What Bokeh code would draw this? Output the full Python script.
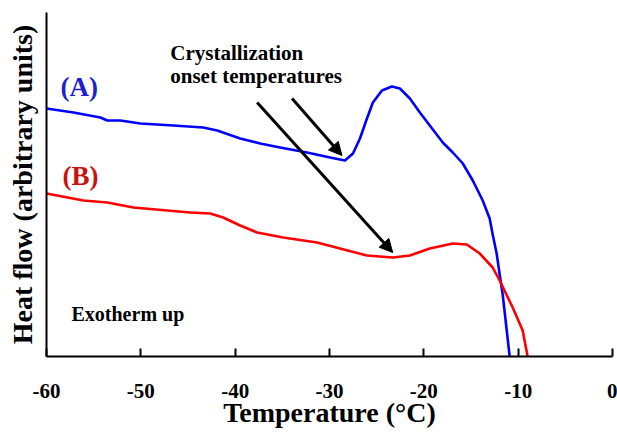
from bokeh.plotting import figure
from bokeh.models import Range1d, Label, Arrow, NormalHead, FixedTicker
from bokeh.embed import file_html
from bokeh.resources import INLINE

# Curve (A) - blue
temp_a = [-60, -57.14, -54.29, -53.55, -52.17, -50.05, -46.56, -43.39, -41.90, -39.47,
          -37.35, -35.24, -32.38, -29.95, -28.36, -27.51, -26.77, -26.03, -25.40, -24.44,
          -23.39, -22.54, -21.48, -20.42, -19.37, -17.99, -16.93, -15.87, -14.81, -13.76,
          -13.02, -12.70, -12.28, -11.96, -11.64, -10.90]
flow_a = [248, 244, 239, 236, 236, 233, 231, 229, 226, 218,
          213, 209, 204, 199, 196, 203, 218, 238, 254, 266,
          270, 268, 258, 244, 231, 214, 204, 193, 176, 156,
          138, 122, 103, 82, 62, 0]

# Curve (B) - red
temp_b = [-60, -56.08, -53.55, -50.79, -47.20, -44.76, -42.65, -41.27, -39.47, -37.67,
          -34.92, -31.32, -28.89, -26.03, -23.28, -21.48, -19.37, -16.93, -15.45, -14.07,
          -12.70, -11.96, -10.58, -9.52, -9.0]
flow_b = [163, 156, 154, 149, 146, 144, 143, 139, 131, 124,
          119, 114, 108, 101, 99, 101, 108, 113, 112, 103,
          89, 76, 49, 26, 0]

x_ticks = [-60, -50, -40, -30, -20, -10, 0]
x_tick_labels = ["-60", "-50", "-40", "-30", "-20", "-10", "0"]

# annotation arrows (start T, start y, end T, end y)
arrow_short = [-33.97, 258, -28.68, 201]
arrow_long = [-37.67, 254, -23.3, 104]

FONT = "Liberation Serif"

p = figure(width=617, height=434, output_backend="svg", toolbar_location=None,
           x_range=Range1d(-60, 0), y_range=Range1d(0, 344),
           min_border_left=46, min_border_right=5, min_border_top=12, min_border_bottom=78)
p.outline_line_color = None
p.xgrid.visible = False
p.ygrid.visible = False
p.background_fill_color = "white"
p.border_fill_color = "white"

p.line(temp_a, flow_a, line_color="#0000ff", line_width=2.6, line_join="round")
p.line(temp_b, flow_b, line_color="#ff0000", line_width=2.6, line_join="round")

for a in (arrow_short, arrow_long):
    p.add_layout(Arrow(x_start=a[0], y_start=a[1], x_end=a[2], y_end=a[3],
                       line_color="black", line_width=3,
                       end=NormalHead(size=13, fill_color="black", line_color="black", line_width=1)))

xa = p.xaxis[0]
xa.ticker = FixedTicker(ticks=x_ticks)
xa.major_label_overrides = {t: s for t, s in zip(x_ticks, x_tick_labels)}
xa.axis_line_width = 2
xa.axis_line_color = "black"
xa.major_tick_line_width = 2
xa.major_tick_line_color = "black"
xa.major_tick_in = 8
xa.major_tick_out = 0
xa.minor_tick_line_color = None
xa.major_label_text_font = FONT
xa.major_label_text_font_style = "bold"
xa.major_label_text_font_size = "21px"
xa.major_label_text_color = "black"
xa.major_label_standoff = 27
xa.axis_label = "Temperature (°C)"
xa.axis_label_text_font = FONT
xa.axis_label_text_font_style = "bold"
xa.axis_label_text_font_size = "28px"
xa.axis_label_text_color = "black"
xa.axis_label_standoff = -4

ya = p.yaxis[0]
ya.ticker = FixedTicker(ticks=[])
ya.axis_line_width = 2
ya.axis_line_color = "black"
ya.major_tick_line_color = None
ya.minor_tick_line_color = None
ya.major_label_text_font_size = "0px"
ya.axis_label = "Heat flow (arbitrary units)"
ya.axis_label_text_font = FONT
ya.axis_label_text_font_style = "bold"
ya.axis_label_text_font_size = "28px"
ya.axis_label_text_color = "black"
ya.axis_label_standoff = 9

def lab(x, y, t, size, color="black"):
    p.add_layout(Label(x=x, y=y, text=t, text_font=FONT, text_font_style="bold",
                       text_font_size=size, text_color=color, text_baseline="alphabetic"))

lab(-46.88, 304, "Crystallization", "21px")
lab(-46.88, 281, "onset temperatures", "21px")
lab(-58.52, 270, "(A)", "27px", "#1f1fd0")
lab(-58.31, 181, "(B)", "27px", "#cc1111")
lab(-57.35, 43, "Exotherm up", "20px")

open("out.html", "w").write(file_html(p, INLINE))
